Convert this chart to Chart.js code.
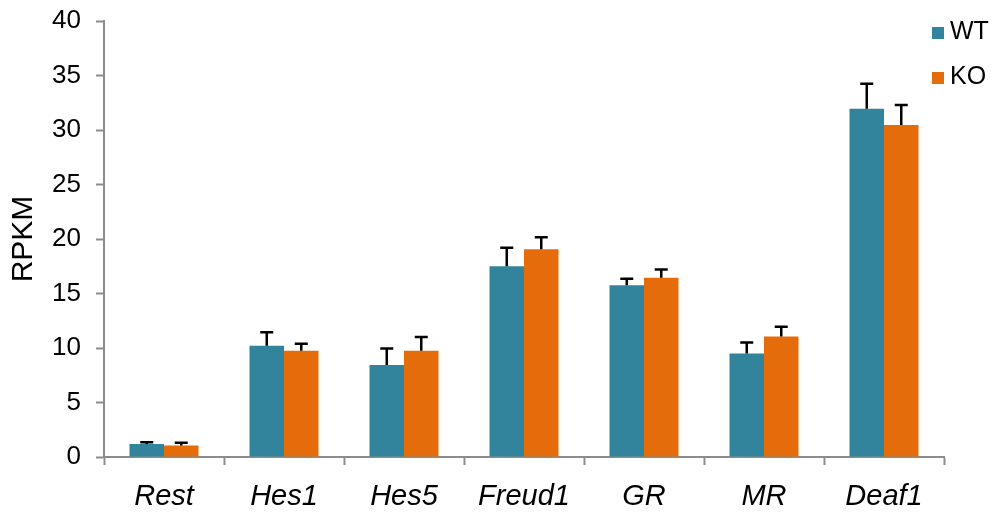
<!DOCTYPE html>
<html>
<head>
<meta charset="utf-8">
<script src="https://cdn.jsdelivr.net/npm/chart.js@4/dist/chart.umd.min.js"></script>
<style>
  html, body { margin: 0; padding: 0; background: #ffffff; }
  #wrap { width: 997px; height: 514px; position: relative; }
</style>
</head>
<body>
<div id="wrap"><canvas id="c" width="997" height="514"></canvas></div>
<script>
// Genes on the x axis
const genes = ['Rest', 'Hes1', 'Hes5', 'Freud1', 'GR', 'MR', 'Deaf1'];

// Mean expression (RPKM) per genotype
const wtValues = [1.2, 10.2, 8.45, 17.5, 15.75, 9.5, 31.95];
const koValues = [1.05, 9.75, 9.75, 19.05, 16.45, 11.05, 30.45];

// Upper error (SEM) per genotype
const wtErrors = [0.15, 1.25, 1.5, 1.7, 0.6, 1.0, 2.3];
const koErrors = [0.25, 0.65, 1.25, 1.1, 0.75, 0.9, 1.85];

// Y axis ticks
const yTicks = [0, 5, 10, 15, 20, 25, 30, 35, 40];

const WT_COLOR = '#31849b';
const KO_COLOR = '#e46c0a';
const AXIS_COLOR = '#8c8c8c';
const FONT = '"Liberation Sans", Arial, sans-serif';

// Upward error bars with a flat cap
const errorBars = {
  id: 'errorBars',
  afterDatasetsDraw(chart) {
    const ctx = chart.ctx;
    const y = chart.scales.y;
    ctx.save();
    ctx.strokeStyle = '#000000';
    ctx.lineWidth = 2.5;
    chart.data.datasets.forEach((ds, di) => {
      const meta = chart.getDatasetMeta(di);
      meta.data.forEach((bar, i) => {
        const top = y.getPixelForValue(ds.data[i] + ds.errors[i]);
        const base = y.getPixelForValue(ds.data[i]);
        ctx.beginPath();
        ctx.moveTo(bar.x, base);
        ctx.lineTo(bar.x, top);
        ctx.moveTo(bar.x - 6.5, top);
        ctx.lineTo(bar.x + 6.5, top);
        ctx.stroke();
      });
    });
    ctx.restore();
  }
};

// Legend in the top-right corner of the plot area
const cornerLegend = {
  id: 'cornerLegend',
  afterDraw(chart) {
    const ctx = chart.ctx;
    const area = chart.chartArea;
    ctx.save();
    ctx.font = '25px ' + FONT;
    ctx.textBaseline = 'middle';
    ctx.textAlign = 'left';
    chart.data.datasets.forEach((ds, i) => {
      const cy = area.top + 12 + i * 45;
      const x0 = area.right - 12;
      ctx.fillStyle = ds.backgroundColor;
      ctx.fillRect(x0, cy - 6, 12, 12);
      ctx.fillStyle = '#000000';
      ctx.fillText(ds.label, x0 + 18, cy - 1);
    });
    ctx.restore();
  }
};

new Chart(document.getElementById('c'), {
  type: 'bar',
  data: {
    labels: genes,
    datasets: [
      { label: 'WT', data: wtValues, errors: wtErrors, backgroundColor: WT_COLOR,
        categoryPercentage: 0.575, barPercentage: 1.0 },
      { label: 'KO', data: koValues, errors: koErrors, backgroundColor: KO_COLOR,
        categoryPercentage: 0.575, barPercentage: 1.0 }
    ]
  },
  options: {
    responsive: false,
    animation: false,
    devicePixelRatio: 1,
    layout: { padding: { left: 0, top: 21, right: 53, bottom: 0 } },
    plugins: {
      legend: { display: false },
      tooltip: { enabled: false }
    },
    scales: {
      x: {
        afterFit(scale) { scale.height = 57; },
        grid: {
          offset: true,
          drawOnChartArea: false,
          drawTicks: true,
          tickLength: 8,
          tickWidth: 2,
          tickColor: AXIS_COLOR
        },
        border: { display: true, color: AXIS_COLOR, width: 2 },
        ticks: {
          color: '#000000',
          padding: 15,
          font: { family: FONT, size: 29, style: 'italic' }
        }
      },
      y: {
        min: 0,
        max: 40,
        afterFit(scale) {
          scale.width = 104;
          scale.paddingTop = 0;
          scale.paddingBottom = 0;
        },
        afterBuildTicks(scale) { scale.ticks = yTicks.map(v => ({ value: v })); },
        grid: {
          drawOnChartArea: false,
          drawTicks: true,
          tickLength: 8,
          tickWidth: 2,
          tickColor: AXIS_COLOR
        },
        border: { display: true, color: AXIS_COLOR, width: 2 },
        ticks: {
          color: '#000000',
          padding: 15,
          font: { family: FONT, size: 26 }
        },
        title: {
          display: true,
          text: 'RPKM',
          color: '#000000',
          padding: { top: 6, bottom: 0 },
          font: { family: FONT, size: 30 }
        }
      }
    }
  },
  plugins: [errorBars, cornerLegend]
});
</script>
</body>
</html>
